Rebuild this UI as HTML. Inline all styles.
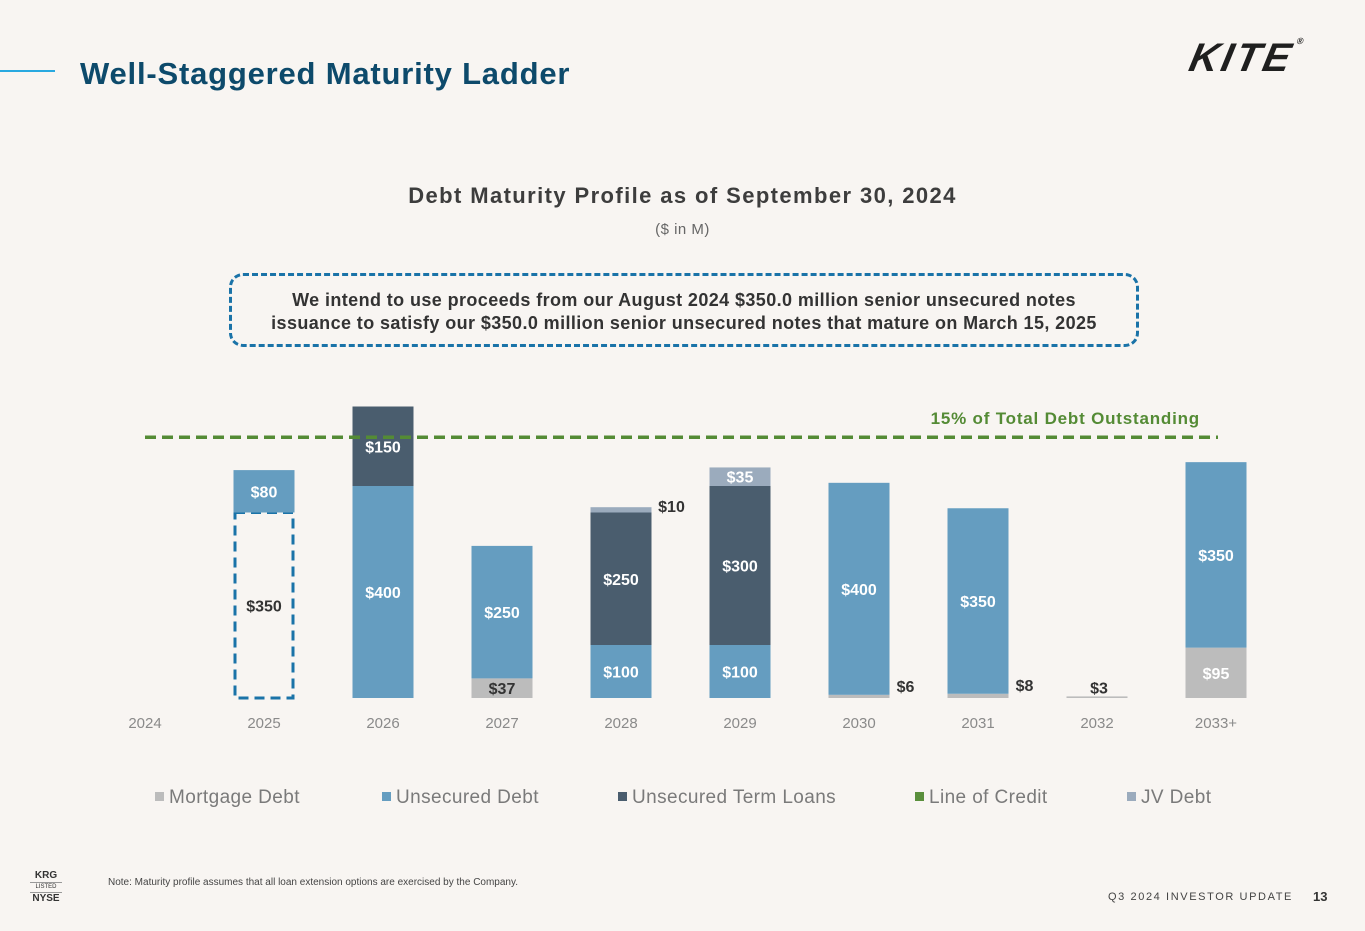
<!DOCTYPE html>
<html><head><meta charset="utf-8">
<style>
html,body{margin:0;padding:0;background:#f8f5f2;}
body{width:1365px;height:931px;position:relative;overflow:hidden;font-family:"Liberation Sans",sans-serif;}
.abs{position:absolute;}
</style></head>
<body>
<div class="abs" style="left:0;top:70px;width:55px;height:2px;background:#29a9e0"></div>
<div class="abs" style="left:80px;top:56px;font-size:31px;letter-spacing:0.8px;font-weight:bold;color:#0d4a6b">Well-Staggered Maturity Ladder</div>
<div class="abs" style="left:1190px;top:36px;font-size:40px;font-weight:900;font-style:italic;color:#1f1f1f;letter-spacing:3px;transform:skewX(-12deg)">KITE<span style="font-size:9px;vertical-align:top;font-style:normal">®</span></div>
<div class="abs" style="left:0;width:1365px;top:183px;text-align:center;font-size:22px;letter-spacing:1.4px;font-weight:bold;color:#3d3d3d">Debt Maturity Profile as of September 30, 2024</div>
<div class="abs" style="left:0;width:1365px;top:221px;text-align:center;font-size:15px;letter-spacing:0.5px;color:#666">($ in M)</div>
<div class="abs" style="left:229px;top:273px;width:904px;height:55px;border:3px dashed #1a73a8;border-radius:14px;text-align:center;font-size:18px;letter-spacing:0.4px;font-weight:bold;color:#333;line-height:23px;padding-top:13px;box-sizing:content-box">We intend to use proceeds from our August 2024 $350.0 million senior unsecured notes<br>issuance to satisfy our $350.0 million senior unsecured notes that mature on March 15, 2025</div>

<svg class="abs" style="left:0;top:0" width="1365" height="931" id="chart"></svg>

<div class="abs" style="left:108px;top:877px;font-size:10px;color:#444">Note: Maturity profile assumes that all loan extension options are exercised by the Company.</div>
<div class="abs" style="left:30px;top:870px;width:32px;text-align:center;color:#333;font-weight:bold;font-size:10px;line-height:12px">KRG<div style="font-size:6px;font-weight:normal;border-top:1px solid #999;border-bottom:1px solid #999;line-height:9px">LISTED</div>NYSE</div>
<div class="abs" style="left:1108px;top:891px;font-size:11px;letter-spacing:1.6px;color:#444">Q3 2024 INVESTOR UPDATE</div>
<div class="abs" style="left:1313px;top:889px;font-size:13px;font-weight:bold;color:#333">13</div>

<script>
const categories=["2024","2025","2026","2027","2028","2029","2030","2031","2032","2033+"];
const mortgage=[0,0,0,37,0,0,6,8,3,95];
const refinancedNotes=[0,350,0,0,0,0,0,0,0,0];
const unsecured=[0,80,400,250,100,100,400,350,0,350];
const termLoans=[0,0,150,0,250,300,0,0,0,0];
const lineOfCredit=[0,0,0,0,0,0,0,0,0,0];
const jvDebt=[0,0,0,0,10,35,0,0,0,0];
const thresholdValue=492;
const legendLabels=["Mortgage Debt","Unsecured Debt","Unsecured Term Loans","Line of Credit","JV Debt"];

const svg=document.getElementById('chart');
const NS='http://www.w3.org/2000/svg';
const base=698, scale=0.53, x0=145, step=119, bw=61;
const y=v=>base-v*scale;
const xc=i=>x0+i*step;
function mk(tag,attrs){const e=document.createElementNS(NS,tag);for(const k in attrs)e.setAttribute(k,attrs[k]);svg.appendChild(e);return e;}
function txt(x,yy,s,fill,size,weight,anchor){const t=mk('text',{x:x,y:yy,fill:fill,'font-size':size,'font-weight':weight||'normal','text-anchor':anchor||'middle','font-family':'Liberation Sans, sans-serif'});t.textContent=s;return t;}

const colors={m:'#bcbcbc',r:'none',u:'#659dc0',t:'#4a5d6e',l:'#5a8f3c',j:'#9babbd'};
categories.forEach((c,i)=>{
  let cum=0;
  const segs=[['m',mortgage[i]],['r',refinancedNotes[i]],['u',unsecured[i]],['t',termLoans[i]],['l',lineOfCredit[i]],['j',jvDebt[i]]];
  segs.forEach(([k,v])=>{
    if(v<=0)return;
    const top=y(cum+v),bot=y(cum);
    const dashed=(k==='r');
    let r;
    if(dashed){
      r=mk('rect',{x:xc(i)-bw/2+1.5,y:top,width:bw-3,height:bot-top,fill:'none',stroke:'#1a73a8','stroke-width':3,'stroke-dasharray':'10,6'});
    } else {
      r=mk('rect',{x:xc(i)-bw/2,y:top,width:bw,height:bot-top,fill:colors[k]});
    }
    
    
    const h=bot-top, lab='$'+v;
    let t;
    if(h>=16){
      const col=dashed?'#333':(k==='m'&&v<50?'#333':'#fff');
      t=txt(xc(i),(top+bot)/2+6,lab,col,16,'bold');
    } else {
      t=txt(xc(i)+bw/2+(k==='j'?20:16),top+(k==='j'?5:-3),lab,'#333',16,'bold');
      if(c==='2032')t.setAttribute('x',xc(i)+2);
    }
    
    
    cum+=v;
  });
  const at=txt(xc(i),728,c,'#8a8a8a',15);
  
  
});
const ln=mk('line',{x1:145,x2:1218,y1:y(thresholdValue),y2:y(thresholdValue),stroke:'#548b35','stroke-width':3.5,'stroke-dasharray':'11,6'});


const lt=txt(1200,y(thresholdValue)-13,'15% of Total Debt Outstanding','#548b35',17,'bold','end');
lt.setAttribute('letter-spacing','0.8');



const legX=[155,382,618,915,1127];
const legC=[colors.m,colors.u,colors.t,colors.l,colors.j];
legendLabels.forEach((l,i)=>{
  const s=mk('rect',{x:legX[i],y:792,width:9,height:9,fill:legC[i]});
  
  
  const t=txt(legX[i]+14,803,l,'#7a7a7a',19,'normal','start');
  t.setAttribute('letter-spacing','0.4');
  
  
});
</script>
</body></html>
